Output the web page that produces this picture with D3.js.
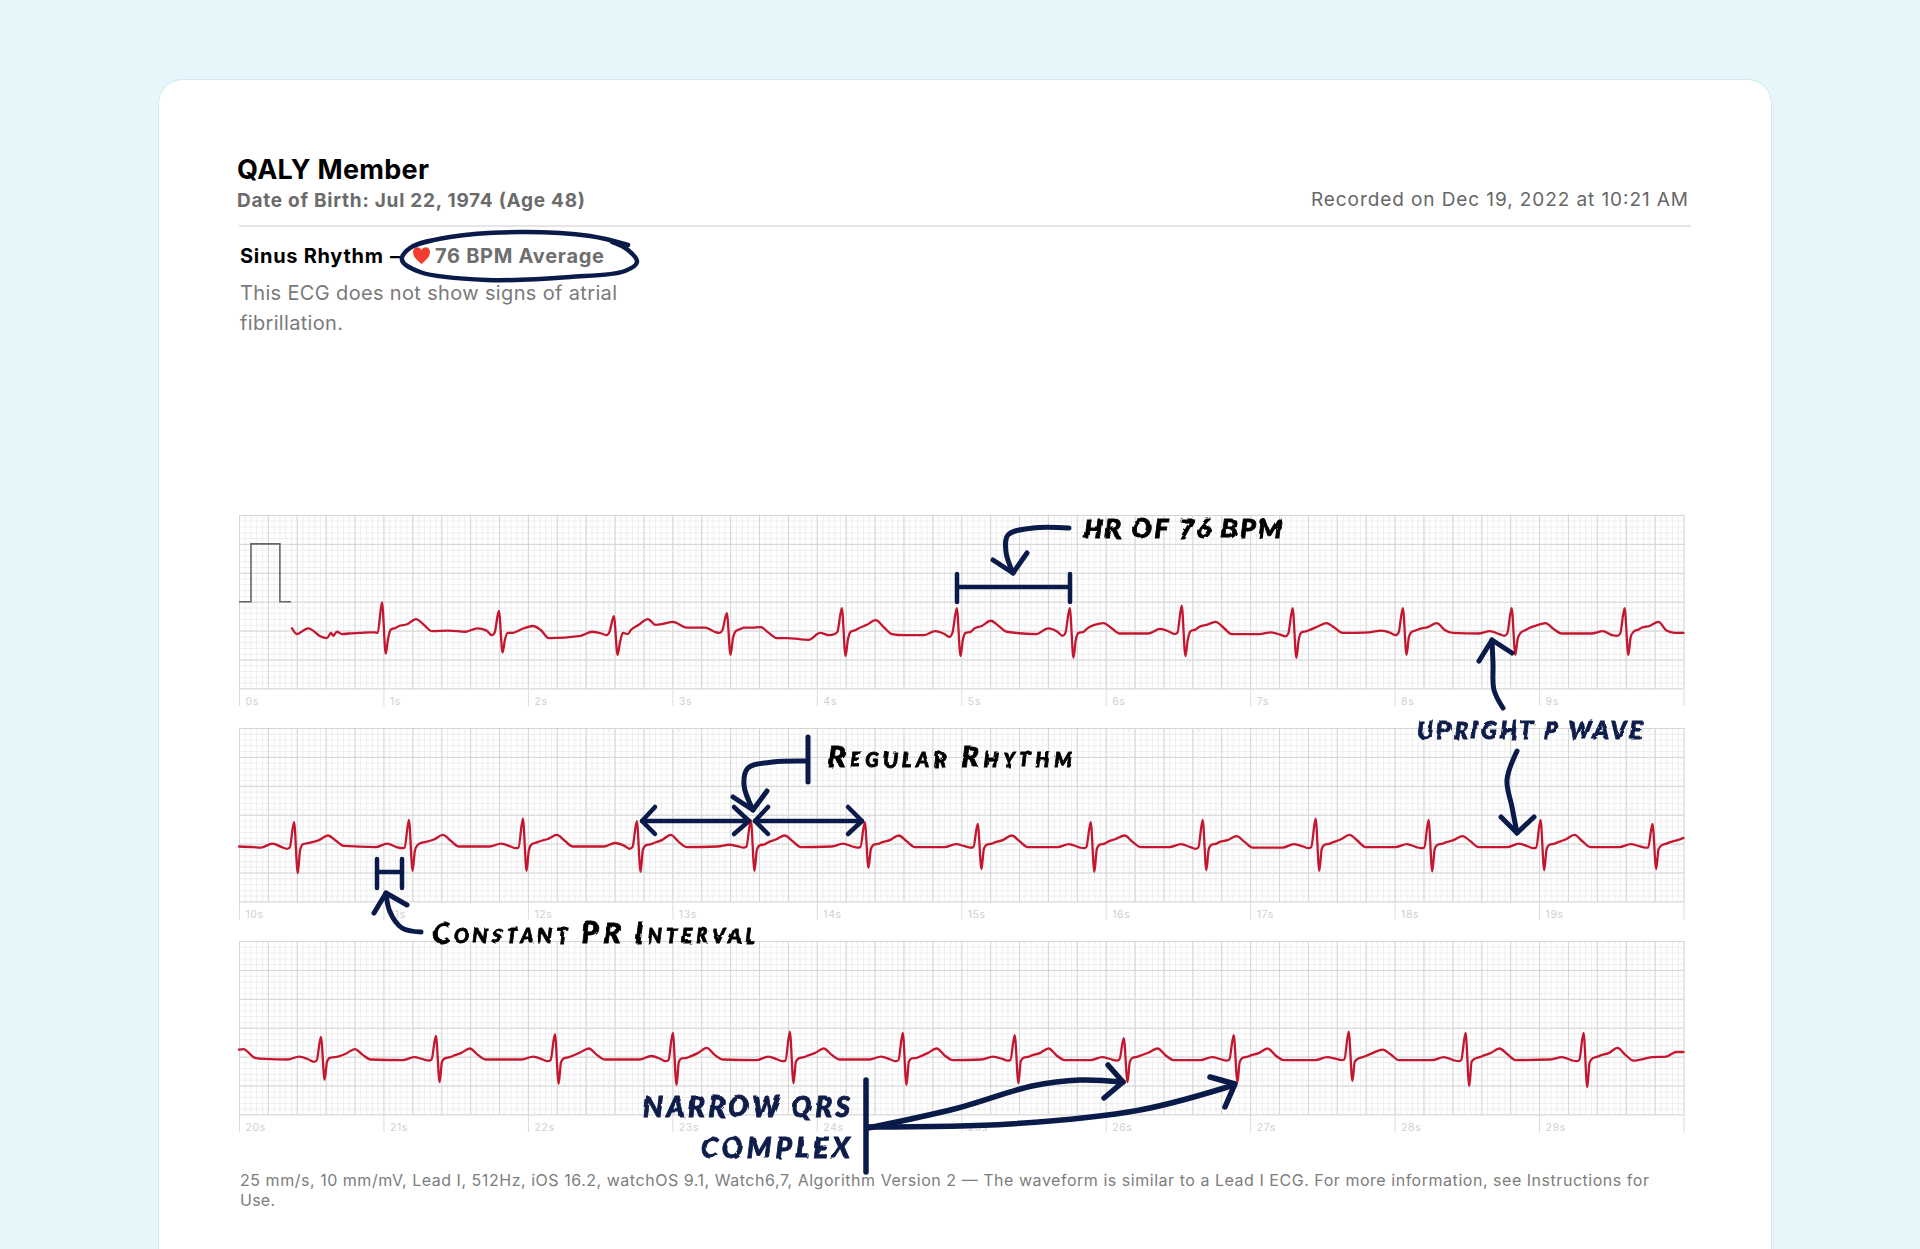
<!DOCTYPE html>
<html><head><meta charset="utf-8">
<script src="https://cdn.jsdelivr.net/npm/d3@7"></script>
<style>
html,body{margin:0;padding:0;background:#e6f6fb;overflow:hidden}
svg{display:block}
text{font-family:Inter,"Noto Sans",sans-serif}
.hand{font-family:Lato,Roboto,sans-serif;font-weight:900;font-style:italic}
</style></head><body>
<script>
// ---------- data (seconds, millivolts) ----------
const stripStarts = [0, 10, 20];
const tickLabels = [
  ["0s","1s","2s","3s","4s","5s","6s","7s","8s","9s"],
  ["10s","11s","12s","13s","14s","15s","16s","17s","18s","19s"],
  ["20s","21s","22s","23s","24s","25s","26s","27s","28s","29s"]
];
const calibrationTimes = [0, 0.083, 0.083, 0.283, 0.283, 0.36];
const calibrationMv    = [0.5, 0.5, 1.5, 1.5, 0.5, 0.5];
// time of each landmark relative to the R peak of its beat
const landmarkOffsets = [-.23,-.15,-.085,-.05,-.03,0,.026,.042,.062,.097,.118,.173,.235,.29,.346];
// each row: R-peak time, then the voltage read at every landmark
const strip1Beats = [
 [0.990,-.05,-.04,-.03,-.03,-.04,.49,-.40,-.14,.02,.05,.08,.11,.20,.10,-.01],
 [1.799,-.02,.04,.00,-.08,-.04,.34,-.38,-.16,-.04,-.04,-.02,.04,.08,.01,-.13],
 [2.595,-.09,-.02,-.05,-.08,-.02,.25,-.42,-.21,-.04,-.06,.01,.10,.20,.10,.12],
 [3.377,.05,.05,-.02,-.04,.01,.30,-.42,-.14,-.01,.03,.05,.05,.06,-.04,-.13],
 [4.173,-.16,-.04,-.08,-.06,-.02,.39,-.44,-.16,-.02,.01,.04,.10,.18,.06,-.06],
 [4.969,-.08,-.01,-.06,-.11,-.04,.39,-.44,-.16,-.04,-.02,.03,.08,.17,.08,-.02],
 [5.751,-.06,.04,-.02,-.09,-.04,.39,-.47,-.16,-.04,-.02,.03,.10,.13,.04,-.05],
 [6.526,-.05,.03,-.02,-.06,-.04,.43,-.44,-.16,-.01,.02,.06,.10,.15,.05,-.06],
 [7.294,-.06,-.03,-.07,-.10,-.05,.39,-.47,-.16,-.03,-.01,.01,.07,.13,.05,-.04],
 [8.057,-.03,.00,-.04,-.08,-.04,.39,-.42,-.11,-.02,.01,.03,.06,.13,.01,-.04],
 [8.810,-.05,-.01,-.06,-.09,-.05,.39,-.42,-.14,-.04,.01,.04,.09,.13,.03,-.05],
 [9.592,-.05,-.01,-.08,-.09,-.05,.39,-.42,-.12,-.02,.02,.05,.08,.15,.00,-.04]
];
const strip1Extra = [[.367,.04],[.401,-.06],[.478,.04],[.574,-.11],[.609,-.13],[.637,-.04],[.651,-.09],[.678,-.02],[.713,-.06],
 [1.45,.00],[3.004,.15],[3.10,.05],[3.21,.05],[3.792,-.13],[4.61,-.08],[10,-.04]];
const strip2Beats = [
 [10.381,-.07,.00,-.06,-.09,-.07,.37,-.51,-.11,-.01,.01,.02,.06,.14,.05,-.04],
 [11.176,-.06,.00,-.06,-.08,-.07,.41,-.47,-.12,-.02,.02,.03,.07,.15,.05,-.05],
 [11.965,-.05,.00,-.05,-.08,-.07,.43,-.47,-.11,-.01,.02,.04,.08,.15,.05,-.05],
 [12.754,-.05,.01,-.04,-.09,-.06,.39,-.49,-.11,-.03,-.01,.01,.06,.15,.03,-.06],
 [13.543,-.05,-.02,-.05,-.07,-.05,.41,-.47,-.11,-.03,-.01,.02,.07,.14,.04,-.06],
 [14.332,-.05,.00,-.05,-.07,-.06,.37,-.42,-.10,-.02,.00,.02,.06,.14,.04,-.06],
 [15.114,-.06,-.01,-.05,-.07,-.06,.34,-.44,-.10,-.02,.00,.02,.06,.14,.04,-.06],
 [15.896,-.06,-.01,-.06,-.08,-.06,.37,-.49,-.10,-.02,.00,.03,.08,.14,.03,-.06],
 [16.671,-.06,-.01,-.06,-.09,-.07,.41,-.46,-.10,-.02,.00,.03,.06,.13,.03,-.07],
 [17.453,-.07,-.01,-.05,-.08,-.06,.43,-.47,-.10,-.02,.00,.02,.07,.15,.05,-.06],
 [18.235,-.06,-.01,-.06,-.08,-.07,.41,-.48,-.10,-.02,.00,.02,.06,.13,.04,-.06],
 [19.010,-.06,.00,-.05,-.08,-.07,.41,-.46,-.10,-.02,.00,.02,.07,.15,.04,-.06],
 [19.785,-.06,-.01,-.05,-.07,-.07,.34,-.44,-.10,-.03,.00,.02,.06,.14,.03,-.06]
];
const strip2Extra = [[10,-.05],[10.1,-.06],[20,.10]];
const strip3Beats = [
 [20.567,-.05,.00,-.05,-.09,-.07,.34,-.40,-.09,-.02,-.01,.00,.05,.13,.03,-.05],
 [21.363,-.06,-.01,-.05,-.07,-.05,.36,-.44,-.09,-.03,-.01,.01,.06,.14,.03,-.05],
 [22.187,-.05,.00,-.05,-.08,-.06,.39,-.47,-.10,-.03,-.01,.01,.07,.14,.03,-.05],
 [23.003,-.05,.01,-.04,-.08,-.06,.41,-.49,-.09,-.03,-.02,.00,.06,.15,.03,-.05],
 [23.813,-.06,.00,-.05,-.08,-.07,.43,-.46,-.09,-.03,-.01,.01,.06,.14,.03,-.05],
 [24.595,-.05,.00,-.05,-.08,-.06,.41,-.49,-.09,-.03,-.02,.00,.06,.14,.02,-.06],
 [25.370,-.05,.00,-.04,-.07,-.06,.37,-.46,-.08,-.02,.00,.02,.06,.14,.02,-.06],
 [26.125,-.06,-.01,-.05,-.07,-.05,.32,-.44,-.09,-.02,.00,.02,.07,.14,.02,-.06],
 [26.886,-.06,-.01,-.05,-.07,-.05,.37,-.44,-.09,-.02,.00,.02,.06,.14,.02,-.06],
 [27.682,-.06,-.01,-.04,-.06,-.05,.43,-.42,-.09,-.04,-.01,.01,.07,.12,.04,-.06],
 [28.491,-.06,-.01,-.06,-.08,-.06,.41,-.51,-.09,-.04,-.01,.01,.06,.14,.04,-.06],
 [29.308,-.05,-.01,-.06,-.08,-.06,.41,-.53,-.10,-.03,.00,.02,.06,.15,.03,-.07]
];
const strip3Extra = [[20,.12],[20.03,.13],[20.11,-.02],[20.18,-.04],[29.785,-.01],[29.88,.00],[29.95,.08],[30,.08]];

// ---------- page ----------
const W = 1920, H = 1249;
const svg = d3.select("body").append("svg").attr("width", W).attr("height", H);
const defs = svg.append("defs");
const rough = defs.append("filter").attr("id","rough").attr("x","-5%").attr("y","-20%").attr("width","110%").attr("height","140%");
rough.append("feTurbulence").attr("type","fractalNoise").attr("baseFrequency",.06).attr("numOctaves",2).attr("seed",4).attr("result","n");
rough.append("feDisplacementMap").attr("in","SourceGraphic").attr("in2","n").attr("scale",4);

svg.append("rect").attr("width",W).attr("height",H).attr("fill","#e6f6fb");
svg.append("rect").attr("x",158.5).attr("y",79.5).attr("width",1613).attr("height",1300).attr("rx",24)
   .attr("fill","#fff").attr("stroke","#cfe9f1");

// text helper: fits each string to the width measured in the picture
function label(s,x,y,size,weight,fill,width,anchor){
  const t = svg.append("text").attr("x",x).attr("y",y).attr("font-size",size).attr("font-weight",weight).attr("fill",fill).text(s);
  if(anchor) t.attr("text-anchor",anchor);
  if(width) t.attr("textLength",width).attr("lengthAdjust","spacing");
  return t;
}
label("QALY Member",237,179,27,700,"#000",192);
label("Date of Birth: Jul 22, 1974 (Age 48)",237,207,19,700,"#6b6b6b",348);
label("Recorded on Dec 19, 2022 at 10:21 AM",1311,206,19,400,"#666",377);
svg.append("line").attr("x1",239).attr("x2",1691).attr("y1",226).attr("y2",226).attr("stroke","#dcdcdc").attr("stroke-width",1.5);
label("Sinus Rhythm",240,263,20,700,"#000",143);
label("–",390,263,20,700,"#000",11);
label("76 BPM Average",435,263,20,700,"#6e6e6e",169);
label("This ECG does not show signs of atrial",240,300,20,400,"#7a7a7a",377);
label("fibrillation.",240,330,20,400,"#7a7a7a",103);
svg.append("path").attr("fill","#f33d2e")
   .attr("d","M421.5 264 C416 259 413 256.5 413 252 C413 247 419 245.500 421.500 250 C424 245.500 430 247 430 252 C430 256.5 427 259 421.5 264Z");
label("25 mm/s, 10 mm/mV, Lead I, 512Hz, iOS 16.2, watchOS 9.1, Watch6,7, Algorithm Version 2 — The waveform is similar to a Lead I ECG. For more information, see Instructions for",240,1186,16,400,"#7d7d7d",1409);
label("Use.",240,1206,16,400,"#7d7d7d",35);

// ---------- ECG strips ----------
const stripLeft = 239, stripRight = 1683.5, stripH = 173.4;
const stripTops = [515, 728, 941];
const stripSeries = [[strip1Beats,strip1Extra],[strip2Beats,strip2Extra],[strip3Beats,strip3Extra]];
const lineGen = d3.line().curve(d3.curveMonotoneX);

stripStarts.forEach((start,i)=>{
  const x = d3.scaleLinear().domain([start,start+10]).range([stripLeft,stripRight]);
  const y = d3.scaleLinear().domain([-1,2]).range([stripH,0]);
  const g = svg.append("g").attr("transform",`translate(0,${stripTops[i]})`);
  lineGen.x(d=>x(d[0])).y(d=>y(d[1]));

  const gridX = (step,color,w)=>g.append("g").attr("transform",`translate(0,${stripH})`)
    .call(d3.axisBottom(x).tickValues(d3.range(0,251).filter(k=>k%step===0).map(k=>start+k*.04)).tickSize(-stripH).tickFormat(""))
    .call(s=>{s.select(".domain").remove(); s.selectAll("line").attr("stroke",color).attr("stroke-width",w);});
  const gridY = (step,color,w)=>g.append("g").attr("transform",`translate(${stripLeft},0)`)
    .call(d3.axisLeft(y).tickValues(d3.range(0,31).filter(k=>k%step===0).map(k=>-1+k*.1)).tickSize(-(stripRight-stripLeft)).tickFormat(""))
    .call(s=>{s.select(".domain").remove(); s.selectAll("line").attr("stroke",color).attr("stroke-width",w);});
  gridX(1,"#eeeeee",1); gridY(1,"#eeeeee",1);
  gridX(5,"#d5d5d5",1); gridY(5,"#d5d5d5",1);

  // seconds axis
  const ax = g.append("g").attr("transform",`translate(0,${stripH})`)
    .call(d3.axisBottom(x).tickValues(d3.range(0,11).map(k=>start+k)).tickSize(18)
      .tickFormat((d,k)=>tickLabels[i][k]||""));
  ax.select(".domain").remove();
  ax.selectAll("line").attr("stroke","#dcdcdc").attr("stroke-width",1);
  ax.selectAll("text").attr("text-anchor","start").attr("x",6).attr("y",9)
    .attr("font-family","Roboto,sans-serif").attr("font-size",10.5).attr("fill","#cfcfcf").attr("letter-spacing",.6);

  if(i===0){
    const calib = calibrationTimes.map((t,k)=>[t,calibrationMv[k]]);
    g.append("path").attr("d",d3.line().x(d=>x(d[0])).y(d=>y(d[1]))(calib))
      .attr("fill","none").attr("stroke","#666").attr("stroke-width",1.6);
  }

  const [beats,extra] = stripSeries[i];
  const pts = beats.flatMap(r=>landmarkOffsets.map((o,k)=>[r[0]+o,r[k+1]]))
    .concat(extra).filter(p=>p[0]>=start&&p[0]<=start+10).sort((a,b)=>a[0]-b[0]);
  g.append("path").attr("d",lineGen(pts)).attr("fill","none").attr("stroke","#c4172f")
    .attr("stroke-width",2.3).attr("stroke-linejoin","round").attr("stroke-linecap","round");
});

// ---------- hand-drawn annotations (layout, not data) ----------
const navy = "#0a1b49";
const curve = d3.line().curve(d3.curveCatmullRom.alpha(.5));
function ink(pts,w,smooth){
  svg.append("path").attr("d",(smooth?curve:d3.line())(pts)).attr("fill","none").attr("stroke",navy)
    .attr("stroke-width",w||4.5).attr("stroke-linecap","round").attr("stroke-linejoin","round");
}
// oval
ink([[628,245],[590,236],[520,232],[450,237],[410,248],[402,260],[420,272],[487,280],[570,277],[625,271],[637,262],[628,250],[612,242]],4.5,true);
// HR bracket
ink([[957,574],[957,602]],4.5); ink([[1070,574],[1070,602]],4.5); ink([[957,587],[1070,587]],4.5);
ink([[1069,528],[1033,528],[1008,535],[1006,552],[1013,573]],5,true);
ink([[993,560],[1013,573],[1027,553]],5);
// R-R arrows
ink([[642,821],[748,821]],4.5); ink([[655,807],[642,821],[655,834]],4.5); ink([[734,807],[749,821],[734,834]],4.5);
ink([[755,821],[862,821]],4.5); ink([[768,807],[755,821],[768,834]],4.5); ink([[848,807],[862,821],[848,834]],4.5);
ink([[808,737],[808,782]],5);
ink([[807,761],[773,762],[748,768],[744,785],[753,810]],5,true);
ink([[733,797],[753,810],[767,791]],5);
// PR bracket
ink([[377,859],[377,888]],4.5); ink([[402,859],[402,888]],4.5); ink([[377,872],[402,872]],4.5);
ink([[421,932],[402,928],[390,912],[386,893]],5,true);
ink([[374,913],[386,893],[407,905]],5);
// upright P wave arrows
ink([[1503,708],[1494,690],[1493,663],[1492,640]],5,true);
ink([[1479,661],[1492,640],[1512,653]],5);
ink([[1517,751],[1507,780],[1512,807],[1517,833]],5,true);
ink([[1501,817],[1517,833],[1534,817]],5);
// narrow QRS arrows
ink([[866,1080],[866,1172]],5.500);
ink([[868,1128],[958,1108],[1032,1086],[1080,1080],[1123,1082]],5.500,true);
ink([[1108,1065],[1123,1082],[1104,1098]],5.500);
ink([[868,1127],[1010,1124],[1140,1110],[1234,1085]],5.500,true);
ink([[1210,1077],[1235,1084],[1225,1107]],5.500);

function hand(s,x,y,size,fill,width,caps){
  const t = svg.append("text").attr("class","hand").attr("x",x).attr("y",y).attr("font-size",size).attr("fill",fill)
    .attr("textLength",width).attr("lengthAdjust","spacing").attr("filter","url(#rough)")
    .attr("stroke",fill).attr("stroke-width",.8).text(s);
  if(caps) t.style("font-variant-caps","small-caps");
  return t;
}
hand("HR OF 76 BPM",1083,538,27,"#000",199);
hand("Regular Rhythm",828,767,29,"#000",244,true);
hand("Constant PR Interval",432,943,29,"#000",323,true);
hand("UPRIGHT P WAVE",1417,739,24,navy,225);
hand("NARROW QRS",643,1117,28,navy,207);
hand("COMPLEX",701,1158,28,navy,149);
</script>
</body></html>
